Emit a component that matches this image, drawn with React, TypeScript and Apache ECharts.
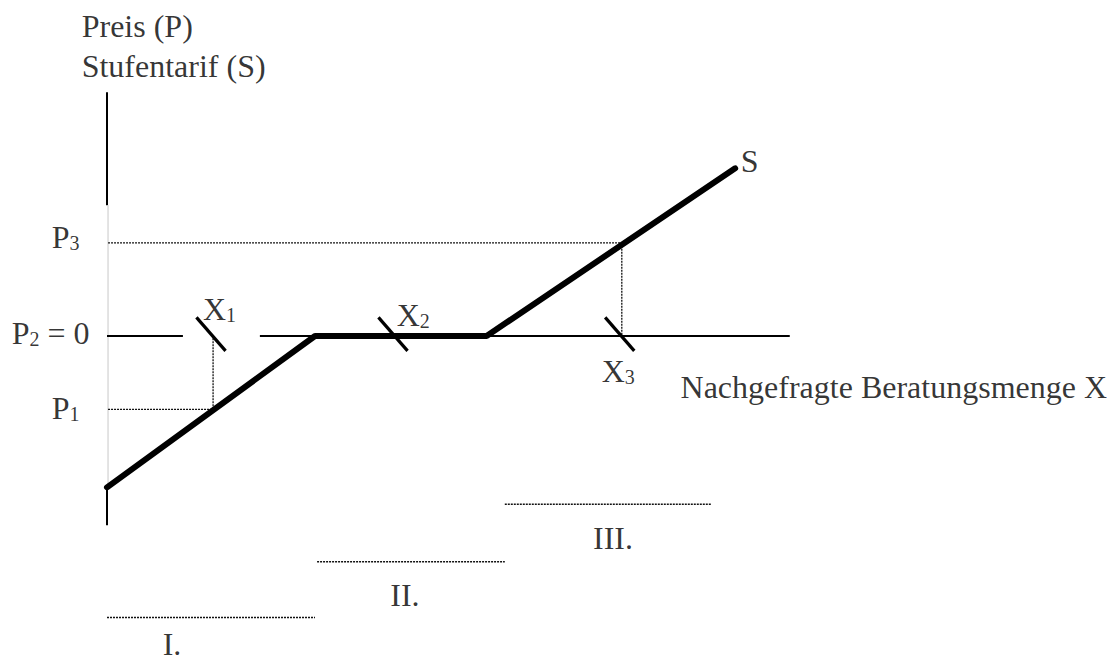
import React, { useEffect, useRef } from "react";
import * as echarts from "echarts";

// ---- data (abstract units: quantity X on the horizontal, price P on the vertical) ----
const tariffX = [0, 4, 7.3, 12.08];
const tariffY = [-6.5, 0, 0, 7.2];
const quantityNames = ["X", "X", "X"];
const quantitySubs = ["1", "2", "3"];
const quantities = [2.04, 5.54, 9.9];
const priceNames = ["P", "P", "P"];
const priceSubs = ["1", "2", "3"];
const prices = [-3.15, 0, 4];
const zoneLabels = ["I.", "II.", "III."];
const zoneStart = [0, 4.04, 7.65];
const zoneEnd = [4.0, 7.65, 11.63];
const quantityAxisEnd = 13.13;
const priceAxisTop = 10.47;
const priceAxisBottom = -8.13;
const yTitle1 = "Preis (P)";
const yTitle2 = "Stufentarif (S)";
const xTitle = "Nachgefragte Beratungsmenge X";
const curveName = "S";

// ---- layout ----
const FONT = '"Liberation Serif", "Times New Roman", serif';
const zoneLineY = [-12.09, -9.7, -7.23];
const zoneLabelPos = [
  [1.25, -13.1],
  [5.73, -11.02],
  [9.73, -8.55],
];
const axisGrayTop = 5.62;
const axisGrayBottom = -6.51;
const axisGapFrom = 1.46;
const axisGapTo = 2.94;

export default function App() {
  const ref = useRef<HTMLDivElement>(null);
  useEffect(() => {
    if (!ref.current) return;
    const chart = echarts.init(ref.current, null, { renderer: "svg" });

    const seg = (data: number[][], color: string, width: number, type: any = "solid", cap: any = "butt") => ({
      type: "line",
      data,
      symbol: "none",
      silent: true,
      clip: false,
      z: 2,
      lineStyle: { color, width, type, cap },
    });

    const series: any[] = [];
    // price axis (black top, faint middle, black bottom)
    series.push(seg([[0, priceAxisTop], [0, axisGrayTop]], "#000", 2));
    series.push(seg([[0.02, axisGrayTop], [0.02, axisGrayBottom]], "#c8c8c8", 1));
    series.push(seg([[0, axisGrayBottom], [0, priceAxisBottom]], "#000", 2));
    // quantity axis at P2 = 0 with a gap behind the X1 label
    series.push(seg([[0, prices[1]], [axisGapFrom, prices[1]]], "#000", 2));
    series.push(seg([[axisGapTo, prices[1]], [quantityAxisEnd, prices[1]]], "#000", 2));
    // dotted guide lines for P1 / X1 and P3 / X3
    series.push(seg([[0.02, prices[0]], [quantities[0], prices[0]]], "#111", 1.3, [2, 1]));
    series.push(seg([[quantities[0], prices[0]], [quantities[0], prices[1]]], "#111", 1.3, [2, 1]));
    series.push(seg([[0.02, prices[2]], [quantities[2], prices[2]]], "#111", 1.3, [2, 1]));
    series.push(seg([[quantities[2], prices[2]], [quantities[2], prices[1]]], "#111", 1.3, [2, 1]));
    // zone lines
    zoneLabels.forEach((_, i) => {
      series.push(seg([[zoneStart[i], zoneLineY[i]], [zoneEnd[i], zoneLineY[i]]], "#111", 1.5, [2, 1]));
    });
    // tariff curve
    series.push({
      ...seg(tariffX.map((x, i) => [x, tariffY[i]]), "#000", 6, "solid", "round"),
      z: 4,
    });
    // tick marks at X1, X2, X3
    quantities.forEach((q) => {
      series.push({ ...seg([[q - 0.32, 0.8], [q + 0.24, -0.64]], "#000", 3.2), z: 5 });
    });

    const labels: any[] = [];
    const rich = {
      m: { fontSize: 32, lineHeight: 37, fontFamily: FONT, color: "#000", verticalAlign: "bottom" },
      s: { fontSize: 20, lineHeight: 20, padding: [14, 0, 0, 0], fontFamily: FONT, color: "#000", verticalAlign: "bottom" },
    };
    const add = (x: number, y: number, text: string, align = "left") => {
      labels.push({ value: [x, y], label: { formatter: text, align } });
    };
    add(-0.487, 13.4, `{m|${yTitle1}}`);
    add(-0.487, 11.7, `{m|${yTitle2}}`);
    add(-1.063, 4.38, `{m|${priceNames[2]}}{s|${priceSubs[2]}}`);
    add(-1.833, 0.255, `{m|${priceNames[1]}}{s|${priceSubs[1]}}{m| = ${prices[1]}}`);
    add(-1.063, -2.98, `{m|${priceNames[0]}}{s|${priceSubs[0]}}`);
    add(1.846, 1.255, `{m|${quantityNames[0]}}{s|${quantitySubs[0]}}`);
    add(5.571, 1.0, `{m|${quantityNames[1]}}{s|${quantitySubs[1]}}`);
    add(9.513, -1.39, `{m|${quantityNames[2]}}{s|${quantitySubs[2]}}`);
    add(12.187, 7.63, `{m|${curveName}}`);
    add(11.03, -2.1, `{m|${xTitle}}`);
    zoneLabels.forEach((z, i) => add(zoneLabelPos[i][0], zoneLabelPos[i][1], `{m|${z}}`, "center"));

    series.push({
      type: "scatter",
      data: labels,
      symbolSize: 0,
      silent: true,
      clip: false,
      z: 6,
      label: {
        show: true,
        position: [0, 0],
        verticalAlign: "middle",
        color: "#000",
        rich,
      },
    });

    chart.setOption({
      animation: false,
      backgroundColor: "#fff",
      grid: { left: 3, top: 10, width: 1092, height: 658 },
      xAxis: { type: "value", min: -2, max: 19, show: false },
      yAxis: { type: "value", min: -14, max: 14, show: false },
      series,
    });
    return () => chart.dispose();
  }, []);
  return <div ref={ref} style={{ position: "absolute", left: 0, top: 0, width: 1119, height: 662 }} />;
}
